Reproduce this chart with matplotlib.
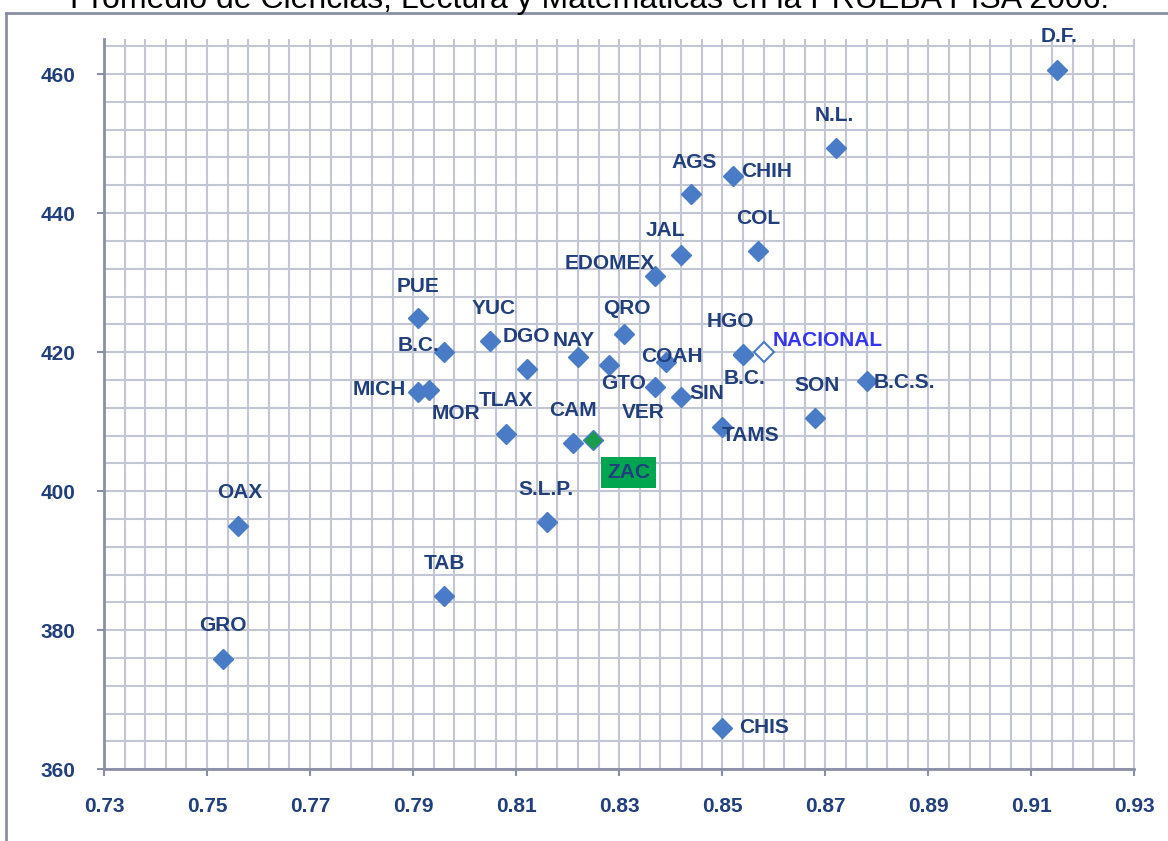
import matplotlib.pyplot as plt
from matplotlib.lines import Line2D
import numpy as np

plt.rcParams['font.family'] = ['Liberation Sans', 'DejaVu Sans']

# entidades federativas: indice (eje x) y promedio PISA 2006 (eje y)
estados = ['D.F.', 'N.L.', 'AGS', 'CHIH', 'COL', 'JAL', 'EDOMEX', 'PUE', 'YUC', 'QRO',
           'HGO', 'B.C.', 'DGO', 'NAY', 'GTO', 'COAH', 'VER', 'SIN', 'B.C.', 'B.C.S.',
           'SON', 'TAMS', 'MICH', 'MOR', 'TLAX', 'CAM', 'S.L.P.', 'OAX', 'TAB', 'GRO', 'CHIS']
indice = [0.915, 0.872, 0.844, 0.852, 0.857, 0.842, 0.837, 0.791, 0.805, 0.831,
          0.854, 0.796, 0.812, 0.822, 0.828, 0.839, 0.837, 0.842, 0.854, 0.878,
          0.868, 0.850, 0.791, 0.793, 0.808, 0.821, 0.816, 0.756, 0.796, 0.753, 0.850]
promedio = [460.6, 449.3, 442.7, 445.3, 434.6, 434.0, 431.0, 424.9, 421.6, 422.6,
            419.8, 420.0, 417.6, 419.3, 418.2, 418.6, 415.0, 413.6, 419.6, 415.9,
            410.6, 409.3, 414.3, 414.6, 408.3, 406.9, 395.6, 395.0, 384.9, 375.9, 365.9]

zac_x, zac_y = 0.825, 407.3
nac_x, nac_y = 0.858, 420.0

xticks = [0.73, 0.75, 0.77, 0.79, 0.81, 0.83, 0.85, 0.87, 0.89, 0.91, 0.93]
yticks = [360, 380, 400, 420, 440, 460]

# posicion de cada etiqueta respecto a su punto (pixeles) y alineacion
etiq = [(2, 33, 'center'), (-1, 33, 'center'), (3, 32, 'center'), (9, 5, 'left'),
        (0, 32, 'center'), (-16, 24, 'center'), (-46, 12, 'center'), (0, 32, 'center'),
        (3, 33, 'center'), (2, 26, 'center'), (-13, 32, 'center'), (-26, 7, 'center'),
        (0, 32, 'center'), (-4, 17, 'center'), (15, -19, 'center'), (6, 5, 'center'),
        (-12, -26, 'center'), (8, 3, 'left'), (2, -24, 'center'), (7, -2, 'left'),
        (2, 32, 'center'), (28, -9, 'center'), (-12, 2, 'right'), (27, -24, 'center'),
        (0, 33, 'center'), (0, 33, 'center'), (-1, 32, 'center'), (2, 33, 'center'),
        (0, 33, 'center'), (0, 33, 'center'), (17, 1, 'left')]

azul = '#4a7bc6'
marino = '#213f7c'
gris = '#8a8fa6'
fs = 15

fig = plt.figure(figsize=(11.68, 8.41), dpi=100)
ax = fig.add_axes([104 / 1168, 1 - 769.3 / 841, 1030.5 / 1168, 730 / 841])

ax.plot(indice, promedio, 'D', ms=10.5, color=azul, mec=azul, zorder=3)
ax.plot(zac_x, zac_y, 'D', ms=10.5, color='#1a9c4a', mec=azul, mew=1, zorder=3)
ax.plot(nac_x, nac_y, 'D', ms=10, color='white', mec=azul, mew=1.5, zorder=3)

for n, x, y, (dx, dy, ha) in zip(estados, indice, promedio, etiq):
    ax.annotate(n, (x, y), xytext=(dx, dy), textcoords='offset pixels', ha=ha, va='center',
                fontsize=fs, fontweight='bold', color=marino, zorder=4)

ax.annotate('ZAC', (zac_x, zac_y), xytext=(35, -32), textcoords='offset pixels',
            ha='center', va='center', fontsize=fs, fontweight='bold', color=marino,
            bbox=dict(boxstyle='square,pad=0.3', fc='#00a550', ec='none'), zorder=4)
ax.annotate('NACIONAL', (nac_x, nac_y), xytext=(9, 12), textcoords='offset pixels',
            ha='left', va='center', fontsize=fs, fontweight='bold', color='#3434f5', zorder=4)

ax.set_xlim(0.73, 0.93)
ax.set_ylim(360, 465)
ax.set_xticks(xticks)
ax.set_xticklabels(['%.2f' % t for t in xticks])
ax.set_yticks(yticks)
ax.set_xticks(np.arange(0.73, 0.9301, 0.004), minor=True)
ax.set_yticks(np.arange(360, 465, 4), minor=True)
ax.grid(which='both', color='#c2c5d3', lw=1.5, zorder=0)
ax.set_axisbelow(True)

ax.tick_params(which='major', direction='out', length=4.8, width=1.5, color=gris,
               pad=15.5, labelsize=fs, labelcolor=marino)
ax.tick_params(which='minor', length=0)
for lab in ax.get_xticklabels() + ax.get_yticklabels():
    lab.set_fontweight('bold')

for s in ['top', 'right']:
    ax.spines[s].set_visible(False)
for s in ['left', 'bottom']:
    ax.spines[s].set_color(gris)
    ax.spines[s].set_linewidth(2)

# marco del grafico
fig.add_artist(Line2D([6 / 1168, 6 / 1168], [0, 1 - 12.5 / 841], color=gris, lw=2))
fig.add_artist(Line2D([6 / 1168, 1], [1 - 12.5 / 841, 1 - 12.5 / 841], color=gris, lw=2))

fig.text(590 / 1168, 1 - 8 / 841,
         'Promedio de Ciencias, Lectura y Matemáticas en la PRUEBA PISA 2006.',
         ha='center', va='baseline', fontsize=23, color='black')

fig.savefig('out.png', dpi=100)
